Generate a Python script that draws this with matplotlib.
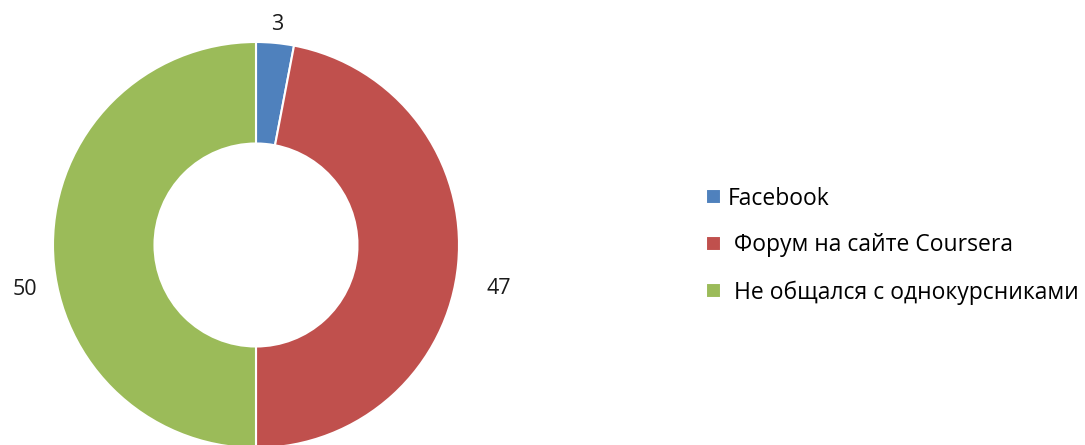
import numpy as np
import matplotlib.pyplot as plt

plt.rcParams['font.family'] = ['Open Sans', 'DejaVu Sans']

labels = ['Facebook', ' Форум на сайте Coursera', ' Не общался с однокурсниками']
values = [3, 47, 50]
colors = ['#4F81BD', '#C0504D', '#9BBB59']

fig = plt.figure(figsize=(10.85, 4.45), dpi=100)
r_px = 203
ax = fig.add_axes([(256 - r_px) / 1085, (200 - r_px) / 445, 2 * r_px / 1085, 2 * r_px / 445])

wedges, _ = ax.pie(values, colors=colors, startangle=90, counterclock=False,
                   wedgeprops=dict(width=0.5, edgecolor='white', linewidth=1.5))
ax.set_xlim(-1, 1)
ax.set_ylim(-1, 1)
ax.set_aspect('equal')

# подписи значений
dists = [1.09, 1.2, 1.14]
dys = [0.0, -0.1, -0.22]
for w, v, d, dy in zip(wedges, values, dists, dys):
    ang = np.deg2rad((w.theta1 + w.theta2) / 2)
    ax.text(d * np.cos(ang), d * np.sin(ang) + dy, str(v), ha='center', va='center',
            fontsize=15.5, color='#1a1a1a', clip_on=False)

fig.legend(wedges, labels, loc='center left', bbox_to_anchor=(0.632, 0.448),
           frameon=False, fontsize=16.5, handlelength=0.65, handleheight=0.65,
           handletextpad=0.3, labelspacing=1.0)

fig.savefig('out.png', dpi=100)
